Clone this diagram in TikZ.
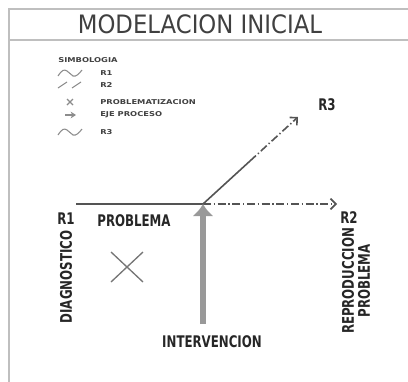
\documentclass[tikz,border=0pt]{standalone}
\usepackage{fontspec}
\usepackage{tikz}
\usetikzlibrary{arrows.meta}
\newfontfamily\cond{DejaVu Sans Condensed}[FakeStretch=0.82]
\newfontfamily\leyfont{DejaVu Sans}[FakeStretch=1.25]
\newfontfamily\plain{DejaVu Sans Condensed}
\definecolor{linea}{rgb}{0.33,0.33,0.33}
\definecolor{marco}{rgb}{0.75,0.75,0.75}
\definecolor{flecha}{rgb}{0.6,0.6,0.6}

\begin{document}
\begin{tikzpicture}[x=0.75pt, y=-0.75pt, etiq/.style = {font=\cond\bfseries\fontsize{12}{12}\selectfont, inner sep=0pt, text=black!85}, mini/.style = {font=\leyfont\bfseries\fontsize{5}{5}\selectfont, inner sep=0pt, anchor=west, text=black!75}, simbolo/.style = {draw=black!45, line width=0.8pt}, eje/.style = {draw=linea, line width=1.2pt}, raya/.style = {eje, dash pattern=on 6pt off 2pt on 1pt off 2pt, -{Straight Barb[length=4pt,width=8pt]}}]
	\useasboundingbox (0,0) rectangle (408,382);
	% marco
	\draw[marco, line width=1.2pt] (408,9) -- (9,9) -- (9,382);
	\draw[marco, line width=1.2pt] (9,40) -- (408,40);
	\node[font=\plain\fontsize{19}{19}\selectfont, text=black!75, inner sep=0pt, anchor=base] (titulo) at (200,34) {MODELACION INICIAL};
	% simbologia
	\node[mini] (simb) at (58,60) {SIMBOLOGIA};
	\node[mini] (leyR1) at (100,73) {R1};
	\node[mini] (leyR2) at (100,85) {R2};
	\node[mini] (leyX) at (100,102) {PROBLEMATIZACION};
	\node[mini] (leyEje) at (100,115) {EJE PROCESO};
	\node[mini] (leyR3) at (100,132) {R3};
	\draw[simbolo] (58,76) .. controls (62,70) and (64,69) .. (67,71) -- (73,76) .. controls (76,77) and (79,74) .. (82,70);
	\draw[simbolo] (58,88) -- (67,82) (72,88) -- (81,82);
	\draw[simbolo] (67,99) -- (73,105) (67,105) -- (73,99);
	\draw[simbolo, -{Stealth[length=4pt,width=5pt]}] (65,115) -- (76,115);
	\draw[simbolo] (58,135) .. controls (62,129) and (64,128) .. (67,130) -- (73,135) .. controls (76,136) and (79,133) .. (82,129);
	% ejes
	\coordinate (inicio) at (76,204);
	\coordinate (origen) at (203,204);
	\coordinate (finR2) at (337,204);
	\coordinate (finR3) at (298,117);
	\coordinate (medio) at (250,161);
	\coordinate (baseInt) at (203,324);
	\draw[eje] (inicio) -- (origen);
	\draw[raya] (origen) -- (finR2);
	\draw[eje] (origen) -- (medio);
	\draw[raya] (medio) -- (finR3);
	\draw[draw=flecha, line width=4pt, -{Latex[length=9pt,width=16pt]}] (baseInt) -- (origen);
	% problema
	\draw[linea!80, line width=1pt] (111,252) -- (143,282) (111,282) -- (143,252);
	% textos
	\node[etiq] (r1) at (66,219) {R1};
	\node[etiq] (problema) at (134,221) {PROBLEMA};
	\node[etiq, rotate=90] (diag) at (66,277) {DIAGNOSTICO};
	\node[etiq] (r3) at (327,105) {R3};
	\node[etiq] (r2) at (349,218) {R2};
	\node[etiq, rotate=90, align=center] (repro) at (356,281) {REPRODUCCION\\PROBLEMA};
	\node[etiq] (interv) at (212,342) {INTERVENCION};
\end{tikzpicture}
\end{document}
